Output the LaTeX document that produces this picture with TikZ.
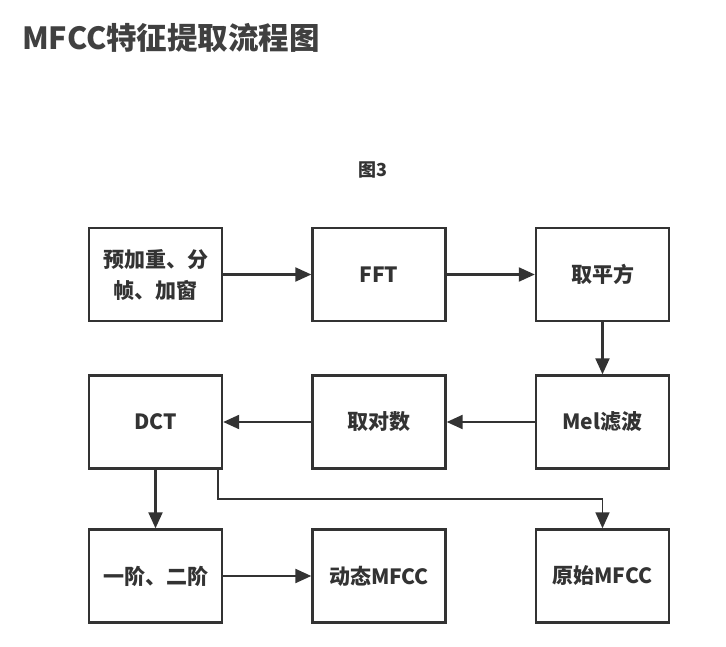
\documentclass[tikz,border=0pt]{standalone}
\usepackage{fontspec}
\setmainfont{Noto Sans CJK SC}
\usetikzlibrary{arrows.meta}
\definecolor{ink}{HTML}{333333}
\definecolor{titleink}{HTML}{404040}
\begin{document}
\begin{tikzpicture}[x=1pt,y=-1pt,
  stage/.style={draw=ink,line width=2.4pt,fill=white,minimum width=133pt,minimum height=93pt,
    align=center,text=ink,font=\bfseries\fontsize{21}{31}\selectfont,inner sep=0pt},
  flow/.style={draw=ink,line width=2.2pt,-{Triangle[length=16pt,width=14pt]}}]
\useasboundingbox (0,0) rectangle (726,647);
\fill[white] (0,0) rectangle (726,647);

% headings
\node[anchor=west,text=titleink,font=\bfseries\fontsize{30.5}{34}\selectfont,inner sep=0pt] (title) at (22,38) {MFCC特征提取流程图};
\node[text=ink,font=\bfseries\fontsize{18}{20}\selectfont,inner sep=0pt] (fig) at (373,170) {图3};

% processing stages
\node[stage] (pre) at (155.5,274.5) {预加重、分\\帧、加窗};
\node[stage] (fft) at (379,274.5) {FFT};
\node[stage] (sq)  at (602.5,274.5) {取平方};
\node[stage] (dct) at (155.5,422) {DCT};
\node[stage] (log) at (379,422) {取对数};
\node[stage] (mel) at (602.5,422) {Mel滤波};
\node[stage] (ord) at (155.5,576) {一阶、二阶};
\node[stage] (dyn) at (379,576) {动态MFCC};
\node[stage] (raw) at (602.5,576) {原始MFCC};

% connectors
\draw[flow] (pre) -- (fft);
\draw[flow] (fft) -- (sq);
\draw[flow] (sq) -- (mel);
\draw[flow] (mel) -- (log);
\draw[flow] (log) -- (dct);
\draw[flow] (dct) -- (ord);
\draw[flow] (ord) -- (dyn);
\coordinate (tap) at ([xshift=-5pt]dct.south east);
\draw[flow,line width=1.7pt] (tap) -- ++(0,29) -| (raw.north);
\end{tikzpicture}
\end{document}
